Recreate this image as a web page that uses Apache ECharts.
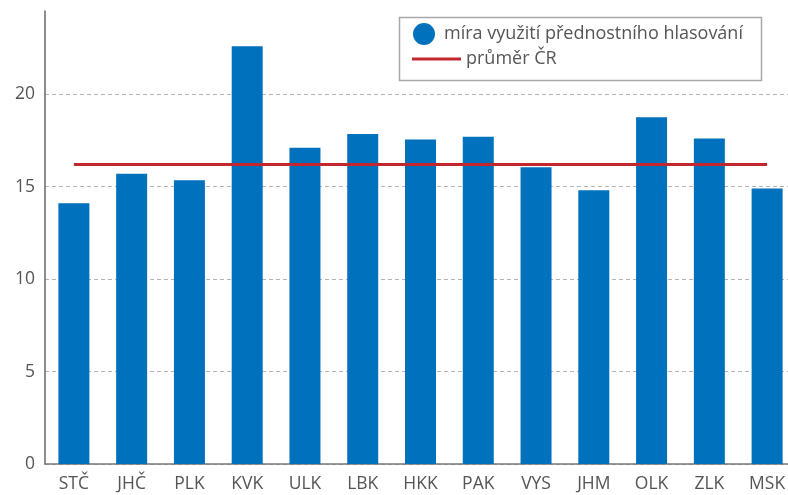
<!DOCTYPE html>
<html>
<head>
<meta charset="utf-8">
<script src="https://cdn.jsdelivr.net/npm/echarts@6/dist/echarts.min.js"></script>
<style>
  html, body { margin: 0; padding: 0; background: #fff; overflow: hidden; }
  /* the plot runs a little past the right edge of the visible page */
  #chart { width: 800px; height: 495px; }
</style>
</head>
<body>
<div id="chart"></div>
<script>
// Regions (kraje) and the share of preferential voting in each
const regions = ['STČ', 'JHČ', 'PLK', 'KVK', 'ULK', 'LBK', 'HKK', 'PAK', 'VYS', 'JHM', 'OLK', 'ZLK', 'MSK'];
const preferentialShare = [14.1, 15.7, 15.35, 22.6, 17.1, 17.85, 17.55, 17.7, 16.05, 14.8, 18.75, 17.6, 14.9];
const nationalAverage = 16.2;
const yTicks = [0, 5, 10, 15, 20];

const FONT = '"Open Sans", "DejaVu Sans", sans-serif';
const TEXT = '#555555';

const chart = echarts.init(document.getElementById('chart'), null, { renderer: 'canvas' });

chart.setOption({
  animation: false,
  textStyle: { fontFamily: FONT },
  grid: { left: 45, width: 751, top: 11, bottom: 31, containLabel: false },
  xAxis: {
    type: 'category',
    data: regions,
    axisLine: { lineStyle: { color: '#777', width: 1.5 } },
    axisTick: { show: false },
    axisLabel: { color: TEXT, fontSize: 17.5, fontFamily: FONT, margin: 11 }
  },
  yAxis: {
    type: 'value',
    min: 0,
    max: 24.5,
    interval: 5,
    axisLine: { show: true, lineStyle: { color: '#666', width: 1.5 } },
    axisTick: { show: false },
    axisLabel: {
      color: TEXT, fontSize: 17.5, fontFamily: FONT, margin: 10,
      showMaxLabel: false,
      formatter: v => (yTicks.includes(v) ? String(v) : '')
    },
    splitLine: {
      show: true,
      lineStyle: {
        type: [4, 3],
        width: 1,
        // last entry hides the line at the top of the axis
        color: ['#b5b5b5', '#b5b5b5', '#b5b5b5', '#b5b5b5', '#b5b5b5', 'rgba(0,0,0,0)']
      }
    }
  },
  legend: [
    {
      left: 413, top: 23, padding: 0,
      itemWidth: 22, itemHeight: 22, itemGap: 0,
      data: [{ name: 'míra využití přednostního hlasování', icon: 'circle' }],
      textStyle: { color: TEXT, fontSize: 18, fontFamily: FONT, padding: [0, 0, 0, 4] },
      selectedMode: false
    },
    {
      left: 412, top: 50, padding: 0,
      itemWidth: 49, itemHeight: 3, itemGap: 0,
      data: [{ name: 'průměr ČR', icon: 'rect' }],
      textStyle: { color: TEXT, fontSize: 18, fontFamily: FONT, padding: [0, 0, 0, 0] },
      selectedMode: false
    }
  ],
  graphic: [
    {
      type: 'rect',
      left: 397, top: 15,
      shape: { width: 362, height: 63 },
      style: { fill: 'none', stroke: '#a8a8a8', lineWidth: 1.5 },
      z: 0
    }
  ],
  series: [
    {
      name: 'míra využití přednostního hlasování',
      type: 'bar',
      data: preferentialShare,
      barWidth: 31,
      itemStyle: { color: '#0071bc' },
      z: 2
    },
    {
      name: 'průměr ČR',
      type: 'line',
      data: regions.map(() => nationalAverage),
      symbol: 'none',
      lineStyle: { color: '#c1272d', width: 3 },
      itemStyle: { color: '#c1272d' },
      z: 3
    }
  ]
});
</script>
</body>
</html>
